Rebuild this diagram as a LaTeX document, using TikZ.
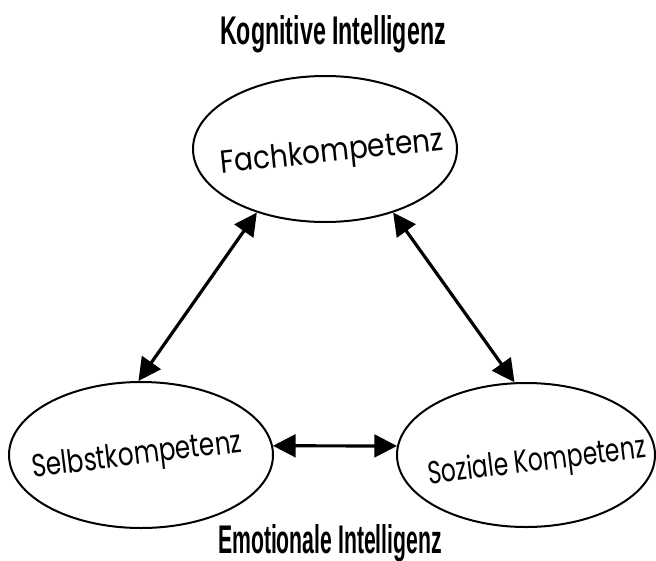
\documentclass[tikz,border=0pt]{standalone}
\usepackage{fontspec}
\usepackage{graphicx}
\usepackage{tikz}
\usetikzlibrary{arrows.meta,shapes}
\newfontfamily\kompfont{Poppins}
\newfontfamily\titlefont{Liberation Sans}

\begin{document}
\begin{tikzpicture}[
    x=0.75pt, y=-0.75pt,
    komp/.style={draw, ellipse, line width=1.5pt, inner sep=0pt,
                 minimum width=198pt, minimum height=109.5pt},
    kompname/.style={rotate=7, inner sep=0pt,
                 font=\kompfont\fontsize{24}{28}\selectfont},
    intel/.style={font=\titlefont\bfseries\fontsize{30}{34}\selectfont, inner sep=0pt},
    arr/.style={{Triangle[length=17pt,width=17pt]}-{Triangle[length=17pt,width=17pt]}, line width=2.4pt}
]
\useasboundingbox (0,0) rectangle (656,560);

\node[intel] (kog) at (333,34) {\scalebox{0.58}[1]{Kognitive Intelligenz}};
\node[intel] (emo) at (330,543) {\scalebox{0.53}[1]{Emotionale Intelligenz}};

\node[komp] (fach) at (325,149) {};
\node[komp] (selbst) at (141,455) {};
\node[komp, minimum width=193.5pt, minimum height=108pt] (sozial) at (526,455) {};

\node[kompname, rotate=-1] (fachname) at (332,154) {\scalebox{0.875}[1]{Fachkompetenz}};
\node[kompname] (selbstname) at (137,457) {\scalebox{0.77}[1]{Selbstkompetenz}};
\node[kompname] (sozialname) at (537,463) {\scalebox{0.73}[1]{Soziale Kompetenz}};

\draw[arr] (fach.223) -- (selbst.92);
\draw[arr] (fach.317) -- (sozial.99);
\draw[arr] (selbst.4) -- (sozial.176);
\end{tikzpicture}
\end{document}
